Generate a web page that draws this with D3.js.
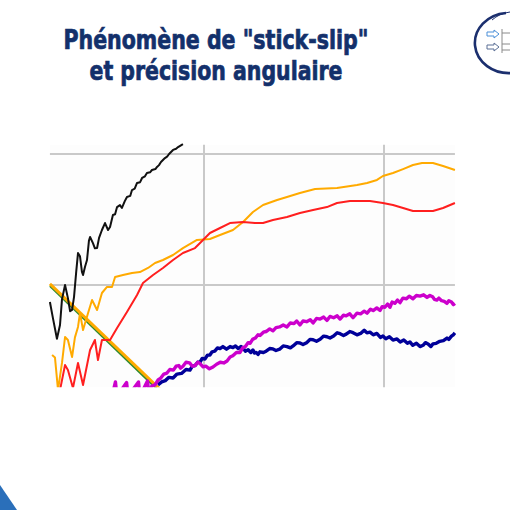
<!DOCTYPE html>
<html><head><meta charset="utf-8">
<script src="https://cdn.jsdelivr.net/npm/d3@7/dist/d3.min.js"></script>
<style>html,body{margin:0;padding:0;background:#fff;}svg{display:block;}</style>
</head><body>
<script>
// ---- DATA (time units: gridlines at 10 and 20; angle units: gridlines at 10 and 20) ----
const titleLines = ["Phénomène de \"stick-slip\"", "et précision angulaire"];
const xGrid = [10, 20];
const yGrid = [10, 20];

const blackSeries = [[1.44,8.70],[1.61,7.45],[1.83,5.90],[2.0,6.95],[2.11,8.9],[2.28,10.0],[2.44,9.0],[2.56,8.0],[2.67,8.1],[2.78,9.1],[2.9,11.0],[3.0,12.44],[3.11,12.2],[3.22,11.0],[3.28,10.76],[3.39,11.4],[3.5,11.91],[3.61,13.4],[3.67,13.66],[3.83,13.2],[3.94,12.8],[4.06,12.82],[4.17,13.6],[4.33,14.2],[4.5,14.73],[4.67,14.2],[4.78,14.43],[4.94,15.34],[5.06,15.4],[5.17,15.95],[5.33,16.1],[5.44,15.88],[5.6,16.4],[5.72,16.72],[5.9,16.8],[6.0,17.25],[6.15,17.35],[6.28,17.79],[6.45,17.85],[6.56,18.17],[6.72,18.3],[6.83,18.55],[7.0,18.6],[7.11,18.78],[7.3,18.85],[7.39,19.01],[7.5,19.15],[7.61,19.39],[7.83,19.69],[7.95,19.8],[8.06,20.0],[8.28,20.31],[8.45,20.4],[8.56,20.53],[8.83,20.76]];

const orangeSeries = [[1.56,4.66],[1.72,4.47],[1.89,1.98],[2.11,4.05],[2.28,6.03],[2.44,5.80],[2.67,4.50],[2.83,6.0],[3.0,6.8],[3.11,7.86],[3.28,6.56],[3.56,7.86],[3.78,8.85],[4.06,8.09],[4.33,9.39],[4.61,9.85],[4.89,9.85],[5.06,10.61],[5.5,10.76],[6.0,10.92],[6.44,10.99],[6.89,11.30],[7.28,11.68],[7.72,11.91],[8.28,12.29],[8.83,12.82],[9.61,13.44],[10.33,13.51],[10.89,13.82],[11.61,14.20],[12.17,14.81],[12.72,15.57],[13.28,16.11],[14.06,16.49],[14.61,16.72],[15.33,17.02],[16.17,17.33],[17.39,17.40],[18.5,17.63],[19.06,17.79],[19.61,18.02],[19.94,18.32],[20.5,18.55],[21.06,18.85],[21.61,19.16],[22.11,19.31],[22.72,19.31],[23.28,19.08],[23.94,18.78]];

const redSeries = [[2.0,1.98],[2.28,3.89],[2.44,3.51],[2.72,2.14],[3.0,4.05],[3.28,2.37],[3.67,5.04],[3.94,5.80],[4.11,4.27],[4.33,5.80],[4.78,5.80],[5.17,6.72],[5.72,7.94],[6.28,9.24],[6.61,10.15],[7.17,10.76],[7.72,11.30],[8.28,11.91],[8.83,12.44],[9.5,12.82],[9.78,13.21],[10.33,13.97],[10.89,14.35],[11.44,14.73],[12.17,14.81],[12.83,14.73],[13.28,14.73],[13.83,14.96],[14.61,15.19],[15.33,15.50],[16.06,15.73],[16.83,15.95],[17.39,16.26],[18.11,16.41],[19.22,16.41],[19.94,16.26],[20.5,16.11],[21.06,15.88],[21.61,15.65],[22.72,15.65],[23.28,15.88],[23.94,16.26]];

const greenSeries = [[1.44,9.92],[7.5,1.90]];
const orangeDiagSeries = [[1.44,10.08],[7.55,2.05]];

const magentaSeries = [[4.89,1.5],[5.08,2.6],[5.16,1.5],[5.7,2.55],[5.78,1.5],[6.36,2.6],[6.44,1.5],[6.86,2.67],[6.95,1.6],[7.1,2.3],[7.28,2.37],[7.45,2.75],[7.6,2.9],[7.77,3.2],[7.94,3.28],[8.1,3.55],[8.3,3.5],[8.45,3.8],[8.6,3.85],[8.7,3.65],[8.83,3.8],[9.0,4.1],[9.2,4.05],[9.35,3.8],[9.5,3.85],[9.65,4.1],[9.78,4.0],[9.95,3.75],[10.1,3.8],[10.3,3.6],[10.5,3.74],[10.7,3.95],[10.9,4.1],[11.1,4.05],[11.28,4.2],[11.45,4.5],[11.6,4.6],[11.8,4.85],[12.0,4.85],[12.15,5.2],[12.3,5.3],[12.45,5.6],[12.56,5.55],[12.7,5.85],[12.85,5.95],[13.0,6.2],[13.11,6.15],[13.3,6.4],[13.45,6.45],[13.65,6.65],[13.83,6.5],[14.0,6.75],[14.2,6.8],[14.4,6.95],[14.61,6.8],[14.8,7.1],[15.0,7.05],[15.15,7.25],[15.33,6.95],[15.5,7.25],[15.7,7.2],[15.9,7.35],[16.06,7.1],[16.25,7.45],[16.45,7.4],[16.65,7.55],[16.83,7.3],[17.0,7.6],[17.2,7.5],[17.4,7.65],[17.56,7.4],[17.75,7.7],[17.9,7.65],[18.1,7.8],[18.28,7.5],[18.5,7.85],[18.7,7.8],[18.9,8.0],[19.06,7.85],[19.25,8.15],[19.4,8.05],[19.6,8.25],[19.78,8.05],[19.9,8.35],[20.05,8.3],[20.2,8.55],[20.33,8.3],[20.45,8.7],[20.6,8.6],[20.75,8.85],[20.89,8.65],[21.05,9.0],[21.25,8.95],[21.4,9.15],[21.61,8.95],[21.8,9.2],[22.0,9.15],[22.2,9.25],[22.39,9.05],[22.55,9.2],[22.7,9.1],[22.8,8.9],[22.94,8.85],[23.05,9.0],[23.2,8.8],[23.35,8.75],[23.5,8.6],[23.6,8.8],[23.75,8.7],[23.85,8.5],[23.94,8.6]];

const navySeries = [[7.44,2.37],[7.65,2.6],[7.85,2.7],[8.05,2.95],[8.28,2.9],[8.5,3.2],[8.75,3.25],[9.0,3.55],[9.22,3.5],[9.35,3.8],[9.5,3.85],[9.65,4.1],[9.78,4.12],[9.9,4.4],[10.05,4.35],[10.2,4.65],[10.33,4.66],[10.45,4.9],[10.6,4.95],[10.75,5.2],[10.89,5.15],[11.05,5.3],[11.25,5.1],[11.45,5.3],[11.61,5.22],[11.75,5.35],[11.9,5.15],[12.05,5.3],[12.17,5.2],[12.3,4.95],[12.45,5.05],[12.6,4.85],[12.72,5.04],[12.8,4.8],[12.9,4.85],[13.0,4.7],[13.11,4.9],[13.3,4.85],[13.45,4.95],[13.65,5.15],[13.83,5.12],[14.0,5.0],[14.2,5.1],[14.4,5.35],[14.61,5.3],[14.8,5.2],[14.95,5.35],[15.15,5.6],[15.33,5.57],[15.5,5.45],[15.7,5.6],[15.9,5.85],[16.06,5.82],[16.25,5.7],[16.45,5.85],[16.65,6.1],[16.83,6.05],[17.0,5.95],[17.2,6.1],[17.4,6.35],[17.56,6.28],[17.75,6.15],[17.9,6.25],[18.1,6.45],[18.28,6.36],[18.5,6.2],[18.7,6.3],[18.9,6.55],[19.05,6.35],[19.22,6.4],[19.4,6.2],[19.6,6.3],[19.8,6.0],[19.94,6.1],[20.1,5.9],[20.3,6.05],[20.5,5.8],[20.72,5.88],[20.9,5.65],[21.1,5.8],[21.3,5.55],[21.44,5.65],[21.6,5.4],[21.8,5.55],[22.0,5.3],[22.17,5.4],[22.3,5.6],[22.45,5.5],[22.6,5.3],[22.72,5.5],[22.9,5.55],[23.1,5.7],[23.3,5.75],[23.5,5.95],[23.6,5.85],[23.75,6.1],[23.85,6.2],[23.94,6.34]];

// ---- CHART ----
const W = 510, H = 510;
const svg = d3.select("body").append("svg").attr("width", W).attr("height", H);

const x = d3.scaleLinear().domain([10, 20]).range([204, 384]);
const y = d3.scaleLinear().domain([10, 20]).range([285, 154]);
const xMin = 1.44, xMax = 23.94, yMin = 2.2, yMax = 20.7;

// plot background (very faint)
svg.append("rect").attr("x", x(xMin)).attr("y", y(yMax)).attr("width", x(xMax) - x(xMin)).attr("height", y(yMin) - y(yMax)).attr("fill", "#fdfdfd");

// gridlines
svg.selectAll("line.hg").data(yGrid).join("line").attr("class","hg")
  .attr("x1", x(xMin)).attr("x2", x(xMax)).attr("y1", d => y(d)).attr("y2", d => y(d))
  .attr("stroke", "#c9c9c9").attr("stroke-width", 2);
svg.selectAll("line.vg").data(xGrid).join("line").attr("class","vg")
  .attr("y1", y(yMax)).attr("y2", y(yMin)).attr("x1", d => x(d)).attr("x2", d => x(d))
  .attr("stroke", "#c9c9c9").attr("stroke-width", 2);

svg.append("defs").append("clipPath").attr("id", "clip")
  .append("rect").attr("x", 0).attr("y", 0).attr("width", W).attr("height", y(yMin));

const line = d3.line().x(d => x(d[0])).y(d => y(d[1]));
const g = svg.append("g").attr("clip-path", "url(#clip)");

const series = [
  {d: greenSeries, c: "#2e8b2e", w: 2},
  {d: orangeDiagSeries, c: "#ffaa00", w: 3},
  {d: orangeSeries, c: "#ffaa00", w: 2},
  {d: redSeries, c: "#ff1f1f", w: 2},
  {d: blackSeries, c: "#111111", w: 2},
  {d: navySeries, c: "#000099", w: 3.4},
  {d: magentaSeries, c: "#cc00cc", w: 3.4}
];
series.forEach(s => {
  g.append("path").datum(s.d).attr("d", line).attr("fill", "none")
    .attr("stroke", s.c).attr("stroke-width", s.w).attr("stroke-linejoin", "round");
});

// title (two lines)
const title = svg.append("g").attr("fill", "#13306b").attr("stroke", "#13306b").attr("stroke-width", 0.7)
  .attr("font-family", "'Liberation Sans Narrow','DejaVu Sans Condensed','DejaVu Sans',sans-serif")
  .attr("font-weight", "bold").attr("font-size", 27).attr("text-anchor", "middle");
const tl = [{t: titleLines[0], y: 49, len: 305}, {t: titleLines[1], y: 79.5, len: 253}];
tl.forEach(l => {
  title.append("text").attr("x", 216).attr("y", l.y).attr("textLength", l.len)
    .attr("lengthAdjust", "spacingAndGlyphs").text(l.t);
});

// logo (top right)
const logo = svg.append("g");
logo.append("path").attr("d", "M506,13 A34,30 0 0 0 512,73").attr("fill", "none").attr("stroke", "#1b2f6e").attr("stroke-width", 2.6);
logo.append("path").attr("d", "M492,20 A32,28 0 0 1 510,12").attr("fill", "none").attr("stroke", "#1b2f6e").attr("stroke-width", 1);
const arrow = (yy, col) => logo.append("path")
  .attr("d", `M487,${yy-2} L494,${yy-2} L494,${yy-4} L499,${yy} L494,${yy+4} L494,${yy+2} L487,${yy+2} Z`)
  .attr("fill", "none").attr("stroke", col).attr("stroke-width", 1);
arrow(34, "#4a8fd8");
arrow(47, "#5a6f95");
logo.append("path").attr("d", "M502,29 L502,53 M502,33 L510,33 M502,44 L510,44 M502,50 L510,50").attr("fill","none").attr("stroke", "#8a8a8a").attr("stroke-width", 1);

// bottom-left triangle
svg.append("path").attr("d", "M0,485 L17,510 L0,510 Z").attr("fill", "#2a6fba");
</script>
</body></html>
